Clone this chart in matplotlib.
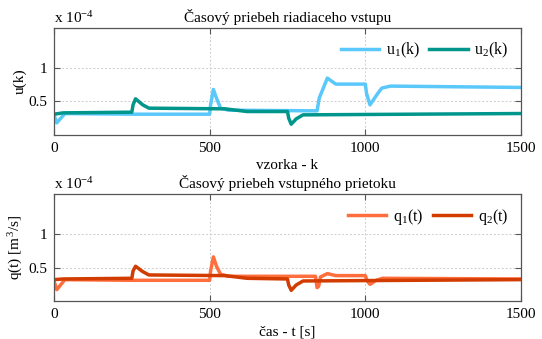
"""
plot.py

time responses of the control input u(k) and inflow q(t)
"""
import matplotlib
matplotlib.use("Agg")
import matplotlib.pyplot as plt

plt.rcParams['font.family'] = ['Liberation Serif', 'DejaVu Serif']
plt.rcParams['mathtext.fontset'] = 'stix'

# data (values in units of 1e-4) -------------------------------------------
u1_k = [0, 9, 35, 250, 500, 503, 512, 522, 535, 560, 845, 852, 878, 905,
        1000, 1004, 1015, 1040, 1053, 1080, 1500]
u1_v = [0.30, 0.18, 0.32, 0.31, 0.31, 0.45, 0.68, 0.55, 0.40, 0.37, 0.36,
        0.55, 0.85, 0.76, 0.76, 0.62, 0.45, 0.62, 0.70, 0.73, 0.71]

u2_k = [0, 30, 250, 254, 262, 285, 305, 550, 620, 750, 754, 762, 778,
        800, 1500]
u2_v = [0.31, 0.33, 0.34, 0.45, 0.54, 0.45, 0.40, 0.39, 0.35, 0.35, 0.25,
        0.16, 0.24, 0.30, 0.32]

q1_t = [0, 9, 35, 250, 500, 503, 512, 522, 535, 560, 840, 845, 850, 856,
        878, 905, 1000, 1006, 1015, 1035, 1055, 1500]
q1_v = [0.30, 0.17, 0.32, 0.31, 0.31, 0.45, 0.66, 0.52, 0.40, 0.37, 0.37,
        0.20, 0.22, 0.36, 0.41, 0.38, 0.38, 0.30, 0.25, 0.31, 0.34, 0.33]

q2_t = [0, 30, 250, 254, 262, 285, 305, 550, 620, 750, 754, 762, 778,
        800, 1500]
q2_v = [0.32, 0.33, 0.34, 0.45, 0.52, 0.44, 0.39, 0.38, 0.34, 0.33, 0.24,
        0.16, 0.24, 0.30, 0.32]

c_u1 = '#5ac8fa'
c_u2 = '#00968c'
c_q1 = '#ff6e3c'
c_q2 = '#d23c00'


def setup_ax(ax, title, x_label, y_label, ylab_x):
    """ gnuplot-like axes styling """
    ax.set_xlim(0, 1500)
    ax.set_ylim(0, 1.6)
    ax.set_xticks([0, 500, 1000, 1500])
    ax.set_yticks([0.5, 1])
    ax.set_yticklabels(['0.5', '1'])
    ax.tick_params(direction='in', top=True, right=True, labelsize=11,
                   length=4, width=0.8, colors='#555555', labelcolor='black',
                   pad=5)
    ax.grid(True, color='#cccccc', linestyle=(0, (2, 2)), linewidth=0.7)
    for s in ax.spines.values():
        s.set_color('#555555')
        s.set_linewidth(0.9)
    ax.set_title(title, fontsize=11, pad=4)
    ax.set_xlabel(x_label, fontsize=11, labelpad=3)
    ax.set_ylabel(y_label, fontsize=11)
    ax.yaxis.set_label_coords(ylab_x, 0.5)
    ax.text(0.0, 1.02, r'x 10$^{\mathregular{-4}}$', transform=ax.transAxes,
            fontsize=11, ha='left', va='bottom')


fig = plt.figure(figsize=(5.42, 3.39), dpi=100)
ax1 = fig.add_axes([0.0996, 0.602, 0.8616, 0.3156])
ax2 = fig.add_axes([0.0996, 0.112, 0.8616, 0.3156])

setup_ax(ax1, 'Časový priebeh riadiaceho vstupu', 'vzorka - k', 'u(k)',
         -0.058)
ax1.plot(u1_k, u1_v, color=c_u1, linewidth=2.5, label=r'$\mathregular{u_1(k)}$')
ax1.plot(u2_k, u2_v, color=c_u2, linewidth=2.5, label=r'$\mathregular{u_2(k)}$')

setup_ax(ax2, 'Časový priebeh vstupného prietoku', 'čas - t [s]',
         r'q(t) [m$^{\mathregular{3}}$/s]', -0.064)
ax2.plot(q1_t, q1_v, color=c_q1, linewidth=2.5, label=r'$\mathregular{q_1(t)}$')
ax2.plot(q2_t, q2_v, color=c_q2, linewidth=2.5, label=r'$\mathregular{q_2(t)}$')

for ax in (ax1, ax2):
    ax.legend(loc='upper right', ncol=2, frameon=False, fontsize=11.5,
              handlelength=2.4, columnspacing=0.6, handletextpad=0.4,
              borderaxespad=0.4)

fig.savefig('out.png', dpi=100)
